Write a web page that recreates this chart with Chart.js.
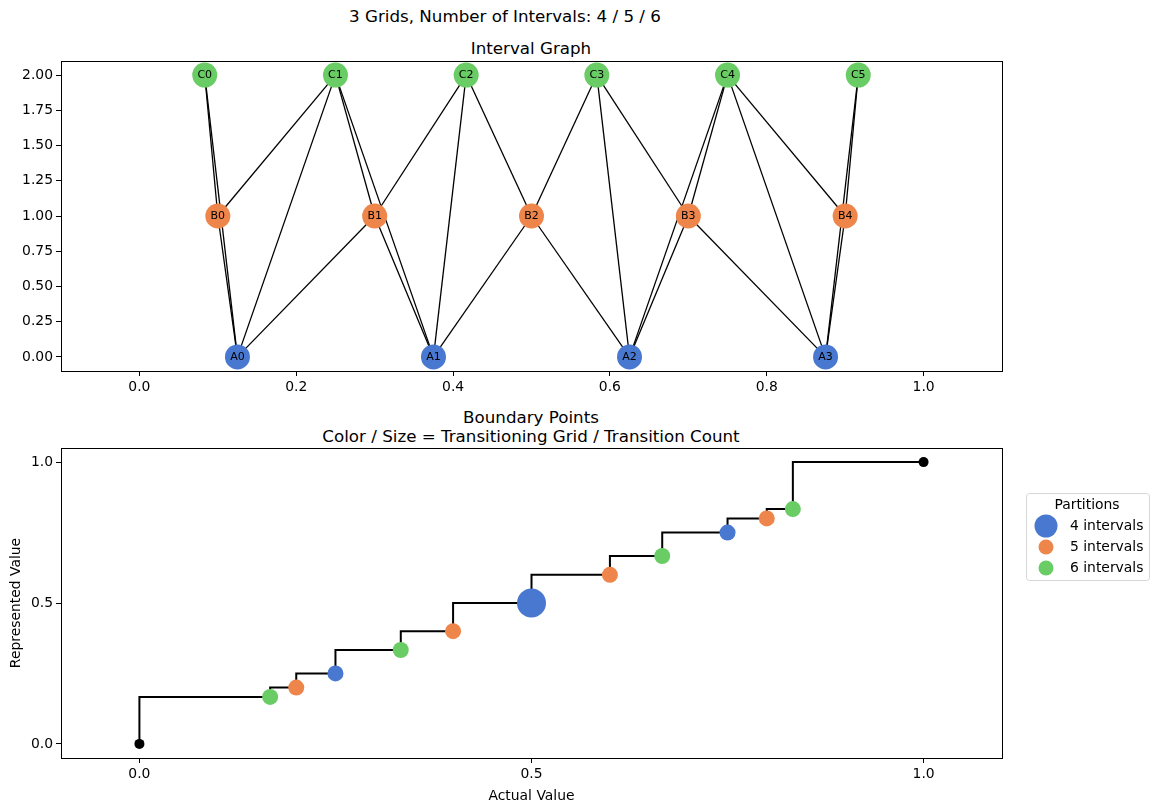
<!DOCTYPE html>
<html>
<head>
<meta charset="utf-8">
<title>Interval Graph / Boundary Points</title>
<script src="https://cdn.jsdelivr.net/npm/chart.js@4.4.1/dist/chart.umd.min.js"></script>
<style>
  body { margin: 0; background: #fff; font-family: "DejaVu Sans", sans-serif; }
  #wrap { position: relative; width: 1158px; height: 811px; overflow: hidden; }
  .ttl { position: absolute; transform: translate(-50%, -50%); white-space: nowrap; color: #000;
         font-size: 16.7px; line-height: 19px; text-align: center; }
  canvas { position: absolute; left: 0; }
</style>
</head>
<body>
<div id="wrap">
  <div class="ttl" style="left:505px; top:16px">3 Grids, Number of Intervals: 4 / 5 / 6</div>
  <div class="ttl" style="left:531px; top:48px">Interval Graph</div>
  <div class="ttl" style="left:531px; top:427px">Boundary Points<br>Color / Size = Transitioning Grid / Transition Count</div>
  <canvas id="graphChart" width="1158" height="400" style="top:0"></canvas>
  <canvas id="boundChart" width="1158" height="411" style="top:400px"></canvas>
</div>
<script>
// ---- interval graph: nodes (interval midpoints) per grid ----
const aNames = ['A0', 'A1', 'A2', 'A3'];
const aX = [0.125, 0.375, 0.625, 0.875];
const bNames = ['B0', 'B1', 'B2', 'B3', 'B4'];
const bX = [0.1, 0.3, 0.5, 0.7, 0.9];
const cNames = ['C0', 'C1', 'C2', 'C3', 'C4', 'C5'];
const cX = [0.0833, 0.25, 0.4167, 0.5833, 0.75, 0.9167];
const aLevel = 0, bLevel = 1, cLevel = 2;

// overlapping intervals
const edges = [
  ['A0', 'B0'], ['A0', 'B1'], ['A0', 'C0'], ['A0', 'C1'],
  ['A1', 'B1'], ['A1', 'B2'], ['A1', 'C1'], ['A1', 'C2'],
  ['A2', 'B2'], ['A2', 'B3'], ['A2', 'C3'], ['A2', 'C4'],
  ['A3', 'B3'], ['A3', 'B4'], ['A3', 'C4'], ['A3', 'C5'],
  ['B0', 'C0'], ['B0', 'C1'], ['B1', 'C1'], ['B1', 'C2'],
  ['B2', 'C2'], ['B2', 'C3'], ['B3', 'C3'], ['B3', 'C4'],
  ['B4', 'C4'], ['B4', 'C5']
];

const graphXTicks = [0, 0.2, 0.4, 0.6, 0.8, 1.0];
const graphYTicks = [0, 0.25, 0.5, 0.75, 1.0, 1.25, 1.5, 1.75, 2.0];

// ---- boundary points ----
const stepX = [0, 0.1667, 0.2, 0.25, 0.3333, 0.4, 0.5, 0.6, 0.6667, 0.75, 0.8, 0.8333, 1];
const stepY = [0, 0.1667, 0.2, 0.25, 0.3333, 0.4, 0.5, 0.6, 0.6667, 0.75, 0.8, 0.8333, 1];
const endX = [0, 1];
const endY = [0, 1];
const fourX = [0.25, 0.5, 0.75];
const fourY = [0.25, 0.5, 0.75];
const fourCount = [1, 2, 1];
const fiveX = [0.2, 0.4, 0.6, 0.8];
const fiveY = [0.2, 0.4, 0.6, 0.8];
const fiveCount = [1, 1, 1, 1];
const sixX = [0.1667, 0.3333, 0.6667, 0.8333];
const sixY = [0.1667, 0.3333, 0.6667, 0.8333];
const sixCount = [1, 1, 1, 1];
const partitionLabels = ['4 intervals', '5 intervals', '6 intervals'];

const boundXTicks = [0, 0.5, 1.0];
const boundYTicks = [0, 0.5, 1.0];

// ---- style ----
const BLUE = '#4878d0', ORANGE = '#ee854a', GREEN = '#6acc64';
const countRadius = { 1: 8, 2: 14.5 };

Chart.defaults.font.family = '"DejaVu Sans", sans-serif';
Chart.defaults.font.size = 13.9;
Chart.defaults.color = '#000';

function axis(min, max, ticks, digits, fit) {
  return {
    type: 'linear',
    min: min,
    max: max,
    afterBuildTicks: s => { s.ticks = ticks.map(v => ({ value: v })); },
    afterFit: fit,
    ticks: { callback: v => v.toFixed(digits), padding: 3, autoSkip: false, maxRotation: 0 },
    grid: { drawOnChartArea: false, drawTicks: true, tickLength: 5, color: '#000', lineWidth: 1 },
    border: { display: true, color: '#000', width: 1 }
  };
}

// box around the plot area like matplotlib spines
const framePlugin = {
  id: 'frame',
  beforeDatasetsDraw(chart) {
    const { ctx, chartArea: a } = chart;
    ctx.save();
    ctx.strokeStyle = '#000';
    ctx.lineWidth = 1;
    ctx.strokeRect(Math.round(a.left) + 0.5, Math.round(a.top) + 0.5,
                   Math.round(a.right - a.left), Math.round(a.bottom - a.top));
    ctx.restore();
  }
};

// node names in the circles
const nodeLabelPlugin = {
  id: 'nodeLabels',
  afterDatasetsDraw(chart) {
    const ctx = chart.ctx;
    ctx.save();
    ctx.font = '11px "DejaVu Sans", sans-serif';
    ctx.fillStyle = '#000';
    ctx.textAlign = 'center';
    ctx.textBaseline = 'middle';
    chart.data.datasets.forEach((ds, i) => {
      if (!ds.nodeNames) return;
      chart.getDatasetMeta(i).data.forEach((pt, j) => {
        ctx.fillText(ds.nodeNames[j], pt.x, pt.y + 0.5);
      });
    });
    ctx.restore();
  }
};

// legend box on the right of the lower plot
const partitionLegend = {
  id: 'partitionLegend',
  afterDraw(chart) {
    const ctx = chart.ctx;
    const bx = 1026, by = 93, bw = 123, bh = 87;
    ctx.save();
    ctx.beginPath();
    ctx.roundRect(bx + 0.5, by + 0.5, bw, bh, 3);
    ctx.fillStyle = 'rgba(255,255,255,0.8)';
    ctx.fill();
    ctx.strokeStyle = '#d6d6d6';
    ctx.lineWidth = 1;
    ctx.stroke();
    ctx.fillStyle = '#000';
    ctx.font = '13.9px "DejaVu Sans", sans-serif';
    ctx.textAlign = 'center';
    ctx.textBaseline = 'middle';
    ctx.fillText('Partitions', 1087, 105);
    const sets = chart.data.datasets.filter(ds => ds.legendRadius);
    sets.forEach((ds, i) => {
      const y = 126 + i * 21;
      ctx.beginPath();
      ctx.arc(1046, y, ds.legendRadius, 0, Math.PI * 2);
      ctx.fillStyle = ds.backgroundColor;
      ctx.fill();
      ctx.fillStyle = '#000';
      ctx.textAlign = 'left';
      ctx.fillText(ds.label, 1070, y);
    });
    ctx.restore();
  }
};

// ---- top chart ----
const nodePos = {};
aNames.forEach((n, i) => { nodePos[n] = { x: aX[i], y: aLevel }; });
bNames.forEach((n, i) => { nodePos[n] = { x: bX[i], y: bLevel }; });
cNames.forEach((n, i) => { nodePos[n] = { x: cX[i], y: cLevel }; });

const graphSets = edges.map(e => ({
  data: [nodePos[e[0]], nodePos[e[1]]],
  showLine: true,
  borderColor: '#000',
  borderWidth: 1.3,
  pointRadius: 0,
  order: 1
}));

function nodeSet(names, xs, level, color) {
  return {
    data: xs.map(x => ({ x: x, y: level })),
    nodeNames: names,
    backgroundColor: color,
    borderWidth: 0,
    pointRadius: 12.5,
    order: 0
  };
}
graphSets.push(nodeSet(aNames, aX, aLevel, BLUE));
graphSets.push(nodeSet(bNames, bX, bLevel, ORANGE));
graphSets.push(nodeSet(cNames, cX, cLevel, GREEN));

new Chart(document.getElementById('graphChart').getContext('2d'), {
  type: 'scatter',
  data: { datasets: graphSets },
  options: {
    responsive: false,
    animation: false,
    events: [],
    layout: { padding: { top: 61, right: 156, left: 0, bottom: 0 } },
    plugins: { legend: { display: false }, tooltip: { enabled: false } },
    scales: {
      x: axis(-0.1, 1.1, graphXTicks, 1, s => { s.height = 29; }),
      y: axis(-0.1, 2.1, graphYTicks, 2, s => { s.width = 61; })
    }
  },
  plugins: [framePlugin, nodeLabelPlugin]
});

// ---- bottom chart ----
function partitionSet(label, xs, ys, counts, color, legendRadius) {
  return {
    label: label,
    data: xs.map((x, i) => ({ x: x, y: ys[i] })),
    backgroundColor: color,
    borderWidth: 0,
    pointRadius: counts.map(c => countRadius[c]),
    legendRadius: legendRadius,
    order: 0
  };
}

const xBound = axis(-0.1, 1.1, boundXTicks, 1, s => { s.height = 53; });
xBound.title = { display: true, text: 'Actual Value', padding: { top: 4, bottom: 6 } };
const yBound = axis(-0.05, 1.05, boundYTicks, 1, s => { s.width = 61; });
yBound.title = { display: true, text: 'Represented Value', padding: { top: 8, bottom: 4 } };

new Chart(document.getElementById('boundChart').getContext('2d'), {
  type: 'scatter',
  data: {
    datasets: [
      {
        data: stepX.map((x, i) => ({ x: x, y: stepY[i] })),
        showLine: true,
        stepped: 'after',
        borderColor: '#000',
        borderWidth: 2,
        pointRadius: 0,
        order: 2
      },
      {
        data: endX.map((x, i) => ({ x: x, y: endY[i] })),
        backgroundColor: '#000',
        borderWidth: 0,
        pointRadius: 5,
        order: 1
      },
      partitionSet(partitionLabels[0], fourX, fourY, fourCount, BLUE, 11.5),
      partitionSet(partitionLabels[1], fiveX, fiveY, fiveCount, ORANGE, 7.5),
      partitionSet(partitionLabels[2], sixX, sixY, sixCount, GREEN, 7.5)
    ]
  },
  options: {
    responsive: false,
    animation: false,
    events: [],
    layout: { padding: { top: 48, right: 156, left: 0, bottom: 0 } },
    plugins: { legend: { display: false }, tooltip: { enabled: false } },
    scales: { x: xBound, y: yBound }
  },
  plugins: [framePlugin, partitionLegend]
});
</script>
</body>
</html>
